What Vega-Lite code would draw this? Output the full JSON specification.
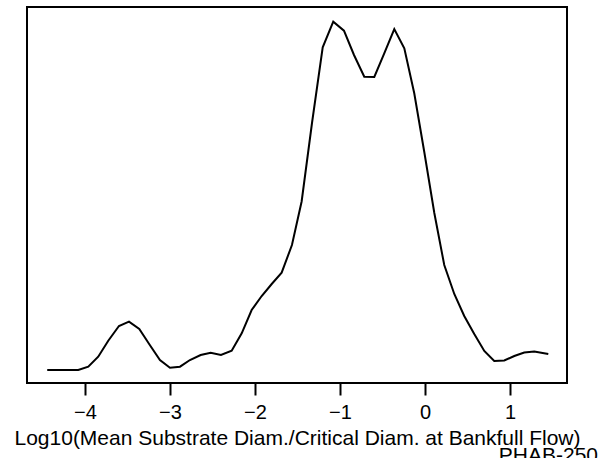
{
  "$schema": "https://vega.github.io/schema/vega-lite/v6.json",
  "width": 540,
  "height": 376,
  "autosize": "none",
  "padding": {"left": 27, "top": 7, "right": 36, "bottom": 75},
  "background": "white",
  "config": {
    "font": "Liberation Sans",
    "view": {"stroke": "black", "strokeWidth": 2}
  },
  "title": {
    "text": "PHAB-250",
    "orient": "bottom",
    "anchor": "end",
    "frame": "group",
    "fontSize": 21,
    "fontWeight": "normal",
    "font": "Liberation Sans",
    "color": "black",
    "offset": 0,
    "dx": 31,
    "dy": -3
  },
  "data": {
    "values": [
      {"log_ratio": -4.444, "density": 0.0},
      {"log_ratio": -4.324, "density": 0.0},
      {"log_ratio": -4.204, "density": 0.0},
      {"log_ratio": -4.079, "density": 0.0},
      {"log_ratio": -3.961, "density": 0.0066},
      {"log_ratio": -3.844, "density": 0.0266},
      {"log_ratio": -3.726, "density": 0.0586},
      {"log_ratio": -3.6, "density": 0.088},
      {"log_ratio": -3.482, "density": 0.0966},
      {"log_ratio": -3.361, "density": 0.082},
      {"log_ratio": -3.243, "density": 0.0514},
      {"log_ratio": -3.118, "density": 0.02},
      {"log_ratio": -3.0, "density": 0.0046},
      {"log_ratio": -2.882, "density": 0.0066},
      {"log_ratio": -2.765, "density": 0.02},
      {"log_ratio": -2.639, "density": 0.03},
      {"log_ratio": -2.521, "density": 0.0346},
      {"log_ratio": -2.4, "density": 0.03},
      {"log_ratio": -2.274, "density": 0.0386},
      {"log_ratio": -2.156, "density": 0.0734},
      {"log_ratio": -2.039, "density": 0.12},
      {"log_ratio": -1.921, "density": 0.148},
      {"log_ratio": -1.803, "density": 0.172},
      {"log_ratio": -1.686, "density": 0.1946},
      {"log_ratio": -1.565, "density": 0.25},
      {"log_ratio": -1.451, "density": 0.337},
      {"log_ratio": -1.329, "density": 0.494},
      {"log_ratio": -1.203, "density": 0.6454},
      {"log_ratio": -1.079, "density": 0.6966},
      {"log_ratio": -0.953, "density": 0.6786},
      {"log_ratio": -0.835, "density": 0.63},
      {"log_ratio": -0.714, "density": 0.5866},
      {"log_ratio": -0.596, "density": 0.586},
      {"log_ratio": -0.479, "density": 0.6334},
      {"log_ratio": -0.361, "density": 0.682},
      {"log_ratio": -0.243, "density": 0.6434},
      {"log_ratio": -0.126, "density": 0.5534},
      {"log_ratio": -0.008, "density": 0.436},
      {"log_ratio": 0.11, "density": 0.314},
      {"log_ratio": 0.227, "density": 0.21},
      {"log_ratio": 0.345, "density": 0.152},
      {"log_ratio": 0.462, "density": 0.108},
      {"log_ratio": 0.58, "density": 0.072},
      {"log_ratio": 0.698, "density": 0.038},
      {"log_ratio": 0.815, "density": 0.018},
      {"log_ratio": 0.933, "density": 0.019},
      {"log_ratio": 1.051, "density": 0.028},
      {"log_ratio": 1.168, "density": 0.035},
      {"log_ratio": 1.286, "density": 0.037},
      {"log_ratio": 1.451, "density": 0.032}
    ]
  },
  "mark": {"type": "line", "color": "black", "strokeWidth": 2, "clip": true},
  "encoding": {
    "x": {
      "field": "log_ratio",
      "type": "quantitative",
      "scale": {"domain": [-4.682, 1.671], "nice": false, "zero": false},
      "axis": {
        "values": [-4, -3, -2, -1, 0, 1],
        "title": "Log10(Mean Substrate Diam./Critical Diam. at Bankfull Flow)",
        "grid": false,
        "domain": false,
        "tickColor": "black",
        "tickSize": 12,
        "tickWidth": 2,
        "labelFont": "Liberation Sans",
        "labelFontSize": 20,
        "labelColor": "black",
        "labelPadding": 7,
        "titleFont": "Liberation Sans",
        "titleFontSize": 21,
        "titleFontWeight": "normal",
        "titleColor": "black",
        "titlePadding": 5
      }
    },
    "y": {
      "field": "density",
      "type": "quantitative",
      "scale": {"domain": [-0.026, 0.726], "nice": false, "zero": false},
      "axis": null
    }
  }
}
